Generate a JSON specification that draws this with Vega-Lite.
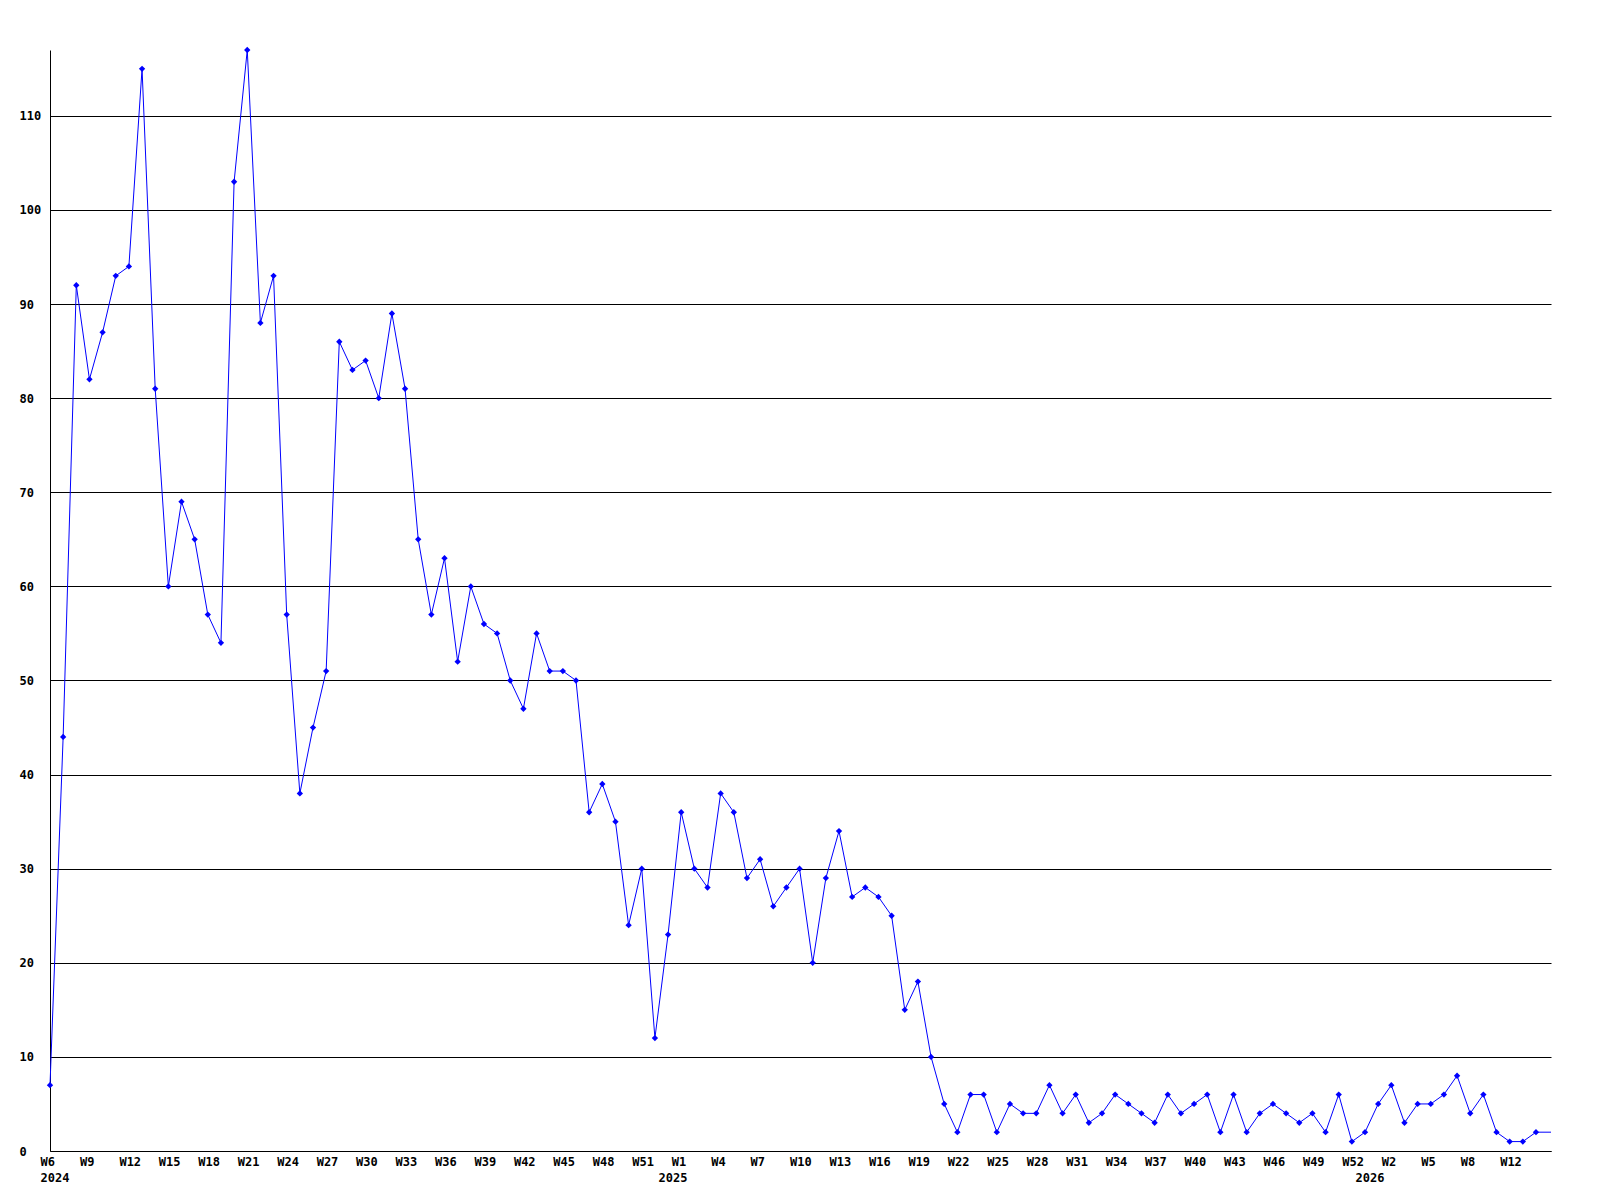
{
  "$schema": "https://vega.github.io/schema/vega-lite/v6.json",
  "width": 1501,
  "height": 1101,
  "autosize": {"type": "pad"},
  "padding": {"left": 19, "top": 46, "right": 10, "bottom": 5},
  "background": "white",
  "config": {
    "view": {"stroke": null},
    "axis": {"labelFont": "DejaVu Sans Mono", "labelFontWeight": "bold", "labelFontSize": 12, "labelColor": "#000000"}
  },
  "data": {
    "values": [
      {"date": "2024-02-05", "count": 7}, {"date": "2024-02-12", "count": 44}, {"date": "2024-02-19", "count": 92}, {"date": "2024-02-26", "count": 82},
      {"date": "2024-03-04", "count": 87}, {"date": "2024-03-11", "count": 93}, {"date": "2024-03-18", "count": 94}, {"date": "2024-03-25", "count": 115},
      {"date": "2024-04-01", "count": 81}, {"date": "2024-04-08", "count": 60}, {"date": "2024-04-15", "count": 69}, {"date": "2024-04-22", "count": 65}, {"date": "2024-04-29", "count": 57},
      {"date": "2024-05-06", "count": 54}, {"date": "2024-05-13", "count": 103}, {"date": "2024-05-20", "count": 117}, {"date": "2024-05-27", "count": 88},
      {"date": "2024-06-03", "count": 93}, {"date": "2024-06-10", "count": 57}, {"date": "2024-06-17", "count": 38}, {"date": "2024-06-24", "count": 45},
      {"date": "2024-07-01", "count": 51}, {"date": "2024-07-08", "count": 86}, {"date": "2024-07-15", "count": 83}, {"date": "2024-07-22", "count": 84}, {"date": "2024-07-29", "count": 80},
      {"date": "2024-08-05", "count": 89}, {"date": "2024-08-12", "count": 81}, {"date": "2024-08-19", "count": 65}, {"date": "2024-08-26", "count": 57},
      {"date": "2024-09-02", "count": 63}, {"date": "2024-09-09", "count": 52}, {"date": "2024-09-16", "count": 60}, {"date": "2024-09-23", "count": 56}, {"date": "2024-09-30", "count": 55},
      {"date": "2024-10-07", "count": 50}, {"date": "2024-10-14", "count": 47}, {"date": "2024-10-21", "count": 55}, {"date": "2024-10-28", "count": 51},
      {"date": "2024-11-04", "count": 51}, {"date": "2024-11-11", "count": 50}, {"date": "2024-11-18", "count": 36}, {"date": "2024-11-25", "count": 39},
      {"date": "2024-12-02", "count": 35}, {"date": "2024-12-09", "count": 24}, {"date": "2024-12-16", "count": 30}, {"date": "2024-12-23", "count": 12}, {"date": "2024-12-30", "count": 23},
      {"date": "2025-01-06", "count": 36}, {"date": "2025-01-13", "count": 30}, {"date": "2025-01-20", "count": 28}, {"date": "2025-01-27", "count": 38},
      {"date": "2025-02-03", "count": 36}, {"date": "2025-02-10", "count": 29}, {"date": "2025-02-17", "count": 31}, {"date": "2025-02-24", "count": 26},
      {"date": "2025-03-03", "count": 28}, {"date": "2025-03-10", "count": 30}, {"date": "2025-03-17", "count": 20}, {"date": "2025-03-24", "count": 29}, {"date": "2025-03-31", "count": 34},
      {"date": "2025-04-07", "count": 27}, {"date": "2025-04-14", "count": 28}, {"date": "2025-04-21", "count": 27}, {"date": "2025-04-28", "count": 25},
      {"date": "2025-05-05", "count": 15}, {"date": "2025-05-12", "count": 18}, {"date": "2025-05-19", "count": 10}, {"date": "2025-05-26", "count": 5},
      {"date": "2025-06-02", "count": 2}, {"date": "2025-06-09", "count": 6}, {"date": "2025-06-16", "count": 6}, {"date": "2025-06-23", "count": 2}, {"date": "2025-06-30", "count": 5},
      {"date": "2025-07-07", "count": 4}, {"date": "2025-07-14", "count": 4}, {"date": "2025-07-21", "count": 7}, {"date": "2025-07-28", "count": 4},
      {"date": "2025-08-04", "count": 6}, {"date": "2025-08-11", "count": 3}, {"date": "2025-08-18", "count": 4}, {"date": "2025-08-25", "count": 6},
      {"date": "2025-09-01", "count": 5}, {"date": "2025-09-08", "count": 4}, {"date": "2025-09-15", "count": 3}, {"date": "2025-09-22", "count": 6}, {"date": "2025-09-29", "count": 4},
      {"date": "2025-10-06", "count": 5}, {"date": "2025-10-13", "count": 6}, {"date": "2025-10-20", "count": 2}, {"date": "2025-10-27", "count": 6},
      {"date": "2025-11-03", "count": 2}, {"date": "2025-11-10", "count": 4}, {"date": "2025-11-17", "count": 5}, {"date": "2025-11-24", "count": 4},
      {"date": "2025-12-01", "count": 3}, {"date": "2025-12-08", "count": 4}, {"date": "2025-12-15", "count": 2}, {"date": "2025-12-22", "count": 6}, {"date": "2025-12-29", "count": 1},
      {"date": "2026-01-05", "count": 2}, {"date": "2026-01-12", "count": 5}, {"date": "2026-01-19", "count": 7}, {"date": "2026-01-26", "count": 3},
      {"date": "2026-02-02", "count": 5}, {"date": "2026-02-09", "count": 5}, {"date": "2026-02-16", "count": 6}, {"date": "2026-02-23", "count": 8},
      {"date": "2026-03-02", "count": 4}, {"date": "2026-03-09", "count": 6}, {"date": "2026-03-16", "count": 2}, {"date": "2026-03-23", "count": 1}, {"date": "2026-03-30", "count": 1},
      {"date": "2026-04-06", "count": 2},
      {"date": "2026-04-14", "count": 2, "kind": "current"}
    ]
  },
  "encoding": {
    "x": {
      "field": "date",
      "type": "temporal",
      "scale": {"type": "utc", "domain": [{"year": 2024, "month": 2, "date": 5, "utc": true}, {"year": 2026, "month": 4, "date": 14, "utc": true}], "nice": false},
      "axis": {
        "title": null,
        "orient": "bottom",
        "grid": false,
        "domain": true,
        "domainColor": "#000000",
        "domainWidth": 1,
        "ticks": false,
        "tickSize": 0,
        "labelAlign": "left",
        "labelOffset": -10,
        "labelPadding": 5,
        "labelBaseline": "top",
        "labelLineHeight": 16,
        "labelOverlap": false,
        "labelFlush": false,
        "labelBound": false,
        "values": [
          {"year": 2024, "month": 2, "date": 5, "utc": true}, {"year": 2024, "month": 2, "date": 26, "utc": true}, {"year": 2024, "month": 3, "date": 18, "utc": true},
          {"year": 2024, "month": 4, "date": 8, "utc": true}, {"year": 2024, "month": 4, "date": 29, "utc": true}, {"year": 2024, "month": 5, "date": 20, "utc": true},
          {"year": 2024, "month": 6, "date": 10, "utc": true}, {"year": 2024, "month": 7, "date": 1, "utc": true}, {"year": 2024, "month": 7, "date": 22, "utc": true},
          {"year": 2024, "month": 8, "date": 12, "utc": true}, {"year": 2024, "month": 9, "date": 2, "utc": true}, {"year": 2024, "month": 9, "date": 23, "utc": true},
          {"year": 2024, "month": 10, "date": 14, "utc": true}, {"year": 2024, "month": 11, "date": 4, "utc": true}, {"year": 2024, "month": 11, "date": 25, "utc": true},
          {"year": 2024, "month": 12, "date": 16, "utc": true}, {"year": 2024, "month": 12, "date": 30, "utc": true},
          {"year": 2025, "month": 1, "date": 6, "utc": true}, {"year": 2025, "month": 1, "date": 27, "utc": true}, {"year": 2025, "month": 2, "date": 17, "utc": true},
          {"year": 2025, "month": 3, "date": 10, "utc": true}, {"year": 2025, "month": 3, "date": 31, "utc": true}, {"year": 2025, "month": 4, "date": 21, "utc": true},
          {"year": 2025, "month": 5, "date": 12, "utc": true}, {"year": 2025, "month": 6, "date": 2, "utc": true}, {"year": 2025, "month": 6, "date": 23, "utc": true},
          {"year": 2025, "month": 7, "date": 14, "utc": true}, {"year": 2025, "month": 8, "date": 4, "utc": true}, {"year": 2025, "month": 8, "date": 25, "utc": true},
          {"year": 2025, "month": 9, "date": 15, "utc": true}, {"year": 2025, "month": 10, "date": 6, "utc": true}, {"year": 2025, "month": 10, "date": 27, "utc": true},
          {"year": 2025, "month": 11, "date": 17, "utc": true}, {"year": 2025, "month": 12, "date": 8, "utc": true}, {"year": 2025, "month": 12, "date": 29, "utc": true},
          {"year": 2026, "month": 1, "date": 5, "utc": true}, {"year": 2026, "month": 1, "date": 19, "utc": true}, {"year": 2026, "month": 2, "date": 9, "utc": true},
          {"year": 2026, "month": 3, "date": 2, "utc": true}, {"year": 2026, "month": 3, "date": 23, "utc": true}
        ],
        "labelExpr": "utcFormat(datum.value,'%Y-%m-%d') == '2024-02-05' ? ['W6','2024'] : utcFormat(datum.value,'%Y-%m-%d') == '2024-12-30' ? [' ','2025'] : utcFormat(datum.value,'%Y-%m-%d') == '2026-01-05' ? [' ','2026'] : utcFormat(datum.value,'%Y-%m-%d') == '2026-01-19' ? 'W2' : utcFormat(datum.value,'%Y-%m-%d') == '2026-02-09' ? 'W5' : utcFormat(datum.value,'%Y-%m-%d') == '2026-03-02' ? 'W8' : 'W' + toNumber(utcFormat(datum.value,'%W'))"
      }
    },
    "y": {
      "field": "count",
      "type": "quantitative",
      "scale": {"domain": [0, 117], "nice": false, "zero": true},
      "axis": {
        "title": null,
        "values": [0, 10, 20, 30, 40, 50, 60, 70, 80, 90, 100, 110],
        "grid": true,
        "gridColor": "#000000",
        "gridOpacity": 1,
        "gridWidth": 1,
        "domain": true,
        "domainColor": "#000000",
        "domainWidth": 1,
        "ticks": false,
        "tickSize": 0,
        "labelAlign": "left",
        "labelBaseline": "middle",
        "labelPadding": 31,
        "labelFlush": false,
        "labelOverlap": false
      }
    }
  },
  "layer": [
    {
      "mark": {"type": "line", "color": "#0000ff", "strokeWidth": 1}
    },
    {
      "transform": [{"filter": "datum.kind != 'current'"}],
      "mark": {"type": "point", "shape": "diamond", "filled": true, "color": "#0000ff", "size": 40, "opacity": 1}
    }
  ]
}
